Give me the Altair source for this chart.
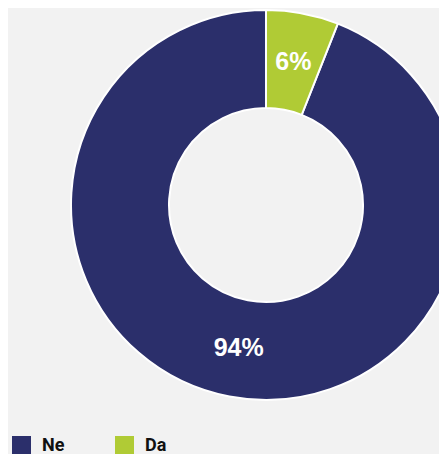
import altair as alt
import pandas as pd

categories = ["Ne", "Da"]
values = [94, 6]
labels = ["94%", "6%"]
colors = ["#2b2f6b", "#b0cb35"]

df = pd.DataFrame({"cat": categories, "value": values, "label": labels})

CX, CY = 258, 197

base = alt.Chart(df).encode(
    theta=alt.Theta("value:Q", stack=True),
    order=alt.Order("value:Q", sort="ascending"),
    x=alt.value(CX),
    y=alt.value(CY),
)

arcs = base.mark_arc(innerRadius=97, outerRadius=195, stroke="white", strokeWidth=2).encode(
    color=alt.Color(
        "cat:N",
        scale=alt.Scale(domain=categories, range=colors),
        legend=alt.Legend(
            title=None,
            orient="none",
            legendX=4,
            legendY=428,
            direction="horizontal",
            symbolType="square",
            symbolSize=361,
            symbolStrokeWidth=0,
            labelFont="Roboto",
            labelFontWeight="bold",
            labelFontSize=18,
            labelColor="#111111",
            labelOffset=11,
            columnPadding=50,
            padding=0,
        ),
    )
)

text = base.mark_text(
    radius=146, font="Liberation Sans", fontWeight="bold", fontSize=25, color="white"
).encode(text="label:N")

chart = (
    (arcs + text)
    .properties(width=431, height=450, padding=0, autosize=alt.AutoSizeParams(type="none"))
    .configure(background="#f2f2f2")
    .configure_view(stroke=None)
)

chart.save("out.html", embed_options={"renderer": "svg", "actions": False})
